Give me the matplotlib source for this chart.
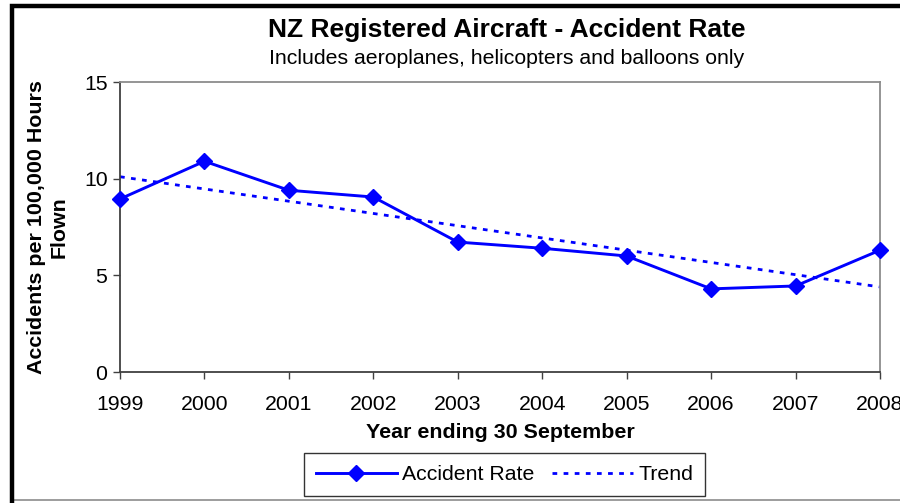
import matplotlib
matplotlib.use("Agg")
import matplotlib.pyplot as plt
from matplotlib.patches import Rectangle
from matplotlib.lines import Line2D

years = ["1999", "2000", "2001", "2002", "2003", "2004", "2005", "2006", "2007", "2008"]
accident_rate = [8.95, 10.9, 9.4, 9.05, 6.72, 6.4, 6.0, 4.3, 4.45, 6.3]
trend_ends = [10.1, 4.4]  # linear trend at first and last year

plt.rcParams['font.family'] = ['Liberation Sans', 'DejaVu Sans']
plt.rcParams['lines.scale_dashes'] = False

W, H = 900, 503
fig = plt.figure(figsize=(9, 5.03), dpi=100)
ax = fig.add_axes([120 / W, 1 - 372 / H, 760 / W, 290 / H])

x = list(range(len(years)))
ax.plot(x, accident_rate, color='#0000FF', lw=2.1, marker='D', markersize=7.8,
        label='Accident Rate', zorder=3, clip_on=False)
ax.plot([x[0], x[-1]], trend_ends, color='#0000FF', lw=2.0,
        linestyle=(0, (3.4, 4.6)), label='Trend', zorder=2)

ax.set_xlim(0, len(years) - 1)
ax.set_ylim(0, 15)
ax.set_yticks([0, 5, 10, 15])
ax.set_xticks(x)
ax.set_xticklabels(years)
ax.tick_params(axis='both', labelsize=15.3, length=5, width=1, color='#404040', direction='out')
ax.tick_params(axis='x', pad=11.5)
ax.tick_params(axis='y', pad=4)
for s in ['left', 'bottom']:
    ax.spines[s].set_color('#404040')
    ax.spines[s].set_linewidth(1.3)
for s in ['top', 'right']:
    ax.spines[s].set_color('#8c8c8c')
    ax.spines[s].set_linewidth(1.3)
for lbl in ax.get_xticklabels():
    lbl.set_clip_on(False)

ax.set_xlabel('Year ending 30 September', fontsize=15.4, fontweight='bold')
ax.xaxis.set_label_coords(0.5, -(432 - 372) / 290)
ax.xaxis.label.set_va('center')
ax.set_ylabel('Accidents per 100,000 Hours\nFlown', fontsize=15.4, fontweight='bold',
              linespacing=1.22)
ax.yaxis.set_label_coords(-(120 - 47.5) / 760, 0.5)
ax.yaxis.label.set_va('center')

fig.text(507 / W, 1 - 30 / H, 'NZ Registered Aircraft - Accident Rate', fontsize=19,
         fontweight='bold', ha='center', va='center')
fig.text(507 / W, 1 - 58 / H, 'Includes aeroplanes, helicopters and balloons only',
         fontsize=15.3, ha='center', va='center')

leg = fig.legend(loc='center', bbox_to_anchor=(504.5 / W, 1 - 474.5 / H), ncol=2,
                 fontsize=15.3, frameon=True, fancybox=False, edgecolor='black',
                 handlelength=3.8, columnspacing=0.85, handletextpad=0.24, borderpad=0.55,
                 borderaxespad=0)
leg.get_frame().set_linewidth(1.0)

# outer chart border (cropped at right/bottom)
fig.patches.append(Rectangle((12 / W, -0.2), 1.2, (1 - 6 / H) + 0.2, transform=fig.transFigure,
                             fill=False, edgecolor='black', linewidth=3.2, zorder=10))
fig.lines.append(Line2D([14 / W, 1], [1 - 500 / H, 1 - 500 / H], transform=fig.transFigure,
                        color='#8c8c8c', linewidth=1.2))

fig.savefig('out.png', dpi=100)
